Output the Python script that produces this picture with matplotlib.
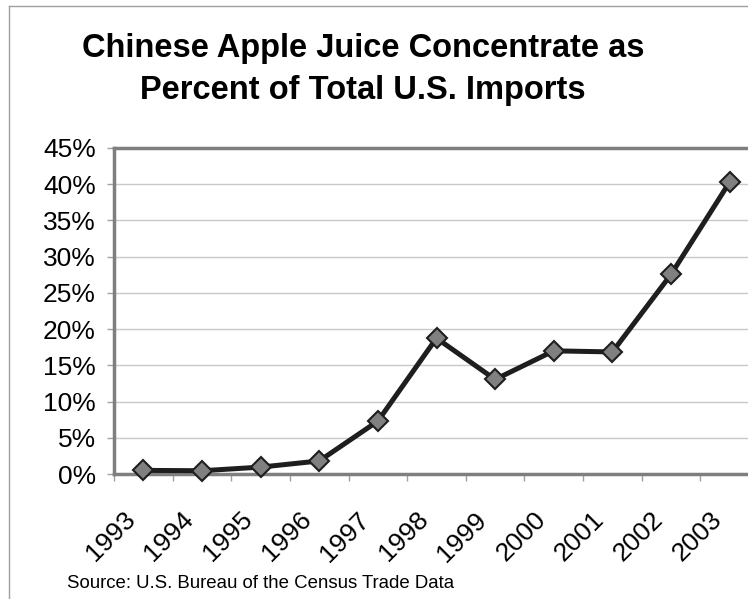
import matplotlib
matplotlib.use('Agg')
import matplotlib.pyplot as plt
from matplotlib import font_manager
from matplotlib.ticker import FuncFormatter
from matplotlib.transforms import ScaledTranslation
from matplotlib.lines import Line2D

years = ['1993', '1994', '1995', '1996', '1997', '1998', '1999', '2000', '2001', '2002', '2003']
share = [0.5, 0.45, 0.95, 1.8, 7.3, 18.75, 13.05, 17.0, 16.85, 27.55, 40.3]  # percent
yticks = [0, 5, 10, 15, 20, 25, 30, 35, 40, 45]

plt.rcParams['font.family'] = ['Liberation Sans', 'DejaVu Sans']

# title font looks like a condensed Arial; use narrow variant if present
names = {f.name for f in font_manager.fontManager.ttflist}
if 'Liberation Sans Narrow' in names:
    title_font, title_size = ['Liberation Sans Narrow', 'Liberation Sans'], 27.5
else:
    title_font, title_size = ['Liberation Sans', 'DejaVu Sans'], 23.5

fig = plt.figure(figsize=(7.48, 5.99), dpi=100)
ax = fig.add_axes([114 / 748, 125 / 599, 645 / 748, 326 / 599])

x = list(range(len(years)))
ax.plot(x, share, color='#1e1e1e', linewidth=3.6, marker='D', markersize=10,
        markerfacecolor='#808080', markeredgecolor='#1e1e1e', markeredgewidth=1.5,
        zorder=3, clip_on=False)

ax.set_xlim(-0.5, len(years) - 0.5)
ax.set_ylim(0, 45)
ax.set_yticks(yticks)
ax.yaxis.set_major_formatter(FuncFormatter(lambda v, p: '%d%%' % v))
ax.grid(axis='y', color='#c8c8c8', linewidth=1.0)
ax.set_axisbelow(True)

# category labels at centres, tick marks at boundaries
ax.set_xticks(x)
ax.set_xticklabels(years, rotation=45, ha='right', va='center', rotation_mode='anchor')
ax.set_xticks([i - 0.5 for i in range(len(years) + 1)], minor=True)
ax.tick_params(axis='x', which='major', length=0, labelsize=19, pad=0)
ax.tick_params(axis='x', which='minor', length=5, color='#a0a0a0', width=1)
ax.tick_params(axis='y', length=5, color='#a0a0a0', width=1, labelsize=19, pad=8)
for lab in ax.get_xticklabels():
    lab.set_transform(lab.get_transform() + ScaledTranslation(-0.12, -0.42, fig.dpi_scale_trans))

for side in ['left', 'top', 'bottom']:
    ax.spines[side].set_color('#7f7f7f')
    ax.spines[side].set_linewidth(2.5)
ax.spines['right'].set_visible(False)

fig.text(0.485, 1 - 57 / 599, 'Chinese Apple Juice Concentrate as', ha='center', va='baseline',
         fontsize=title_size, fontweight='bold', family=title_font)
fig.text(0.485, 1 - 99 / 599, 'Percent of Total U.S. Imports', ha='center', va='baseline',
         fontsize=title_size, fontweight='bold', family=title_font)
fig.text(67 / 748, 11 / 599, 'Source: U.S. Bureau of the Census Trade Data', ha='left', va='baseline',
         fontsize=13.4)

# outer chart frame (left and top edges visible)
fig.add_artist(Line2D([9 / 748, 9 / 748], [0, 1 - 6 / 599], transform=fig.transFigure,
                      color='#a0a0a0', linewidth=1))
fig.add_artist(Line2D([9 / 748, 1], [1 - 6 / 599, 1 - 6 / 599], transform=fig.transFigure,
                      color='#a0a0a0', linewidth=1))

fig.savefig('out.png', dpi=100)
